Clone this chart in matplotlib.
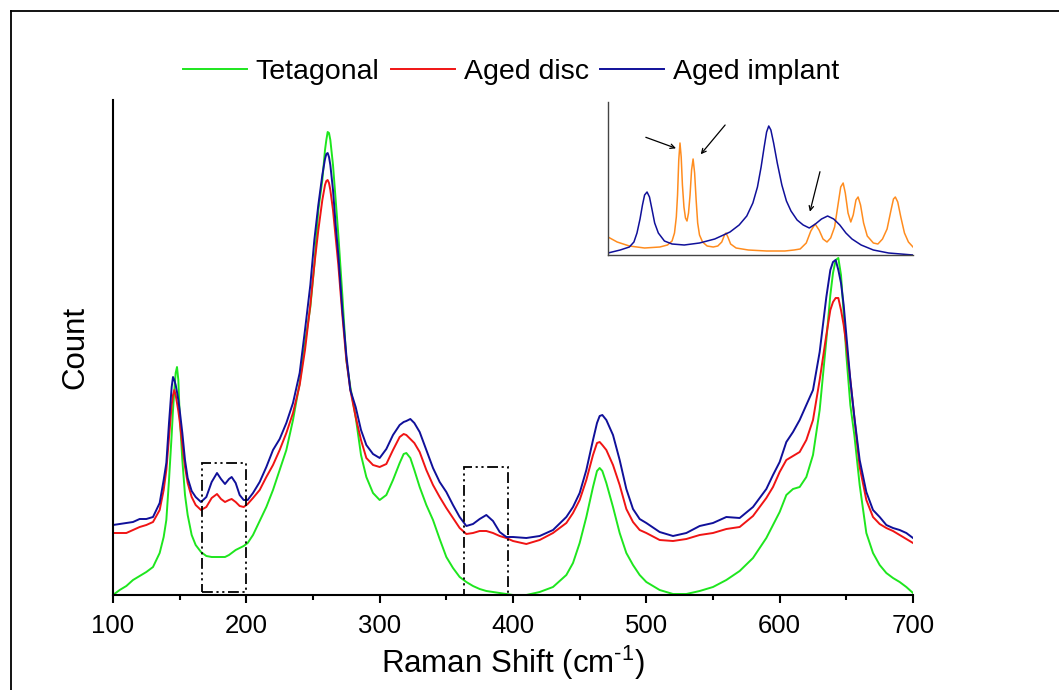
import matplotlib
matplotlib.use("Agg")
import matplotlib.pyplot as plt
from matplotlib.lines import Line2D
from matplotlib.patches import Rectangle
from matplotlib.ticker import MultipleLocator

plt.rcParams['font.family'] = ['Liberation Sans', 'DejaVu Sans']
plt.rcParams['mathtext.fontset'] = 'custom'
plt.rcParams['mathtext.rm'] = 'Liberation Sans'
plt.rcParams['mathtext.it'] = 'Liberation Sans'

# ---------------- data (main spectra) ----------------
raman_shift = [
    100, 105, 110, 115, 120, 125, 130, 135, 138, 140,
    142, 144, 145, 146, 147, 148, 149, 150, 152, 154,
    156, 159, 162, 166, 170, 174, 178, 181, 184, 187,
    189, 192, 195, 198, 201, 205, 210, 215, 220, 225,
    230, 235, 240, 244, 248, 251, 254, 257, 259, 260,
    261, 262, 263, 265, 267, 269, 272, 275, 278, 282,
    286, 290, 295, 300, 305, 310, 315, 318, 320, 323,
    326, 330, 335, 340, 345, 350, 355, 360, 365, 370,
    375, 380, 385, 390, 395, 400, 410, 420, 430, 440,
    445, 450, 455, 460, 463, 465, 467, 470, 475, 480,
    485, 490, 495, 500, 510, 520, 530, 540, 550, 560,
    570, 580, 590, 595, 600, 605, 610, 615, 620, 625,
    630, 635, 638, 640, 642, 644, 646, 648, 650, 653,
    656, 660, 665, 670, 675, 680, 685, 690, 695, 700,
]

tetragonal = [
    0, 5, 9, 15, 19, 23, 28, 42, 58, 75,
    115, 160, 185, 205, 222, 228, 215, 180, 135, 100,
    80, 60, 50, 43, 39, 38, 38, 38, 38, 40,
    42, 45, 47, 49, 52, 60, 74, 88, 105, 125,
    145, 175, 212, 252, 288, 330, 385, 415, 445, 455,
    463, 462, 455, 430, 395, 360, 300, 235, 208, 178,
    140, 118, 102, 95, 100, 115, 132, 141, 142, 137,
    125, 108, 90, 75, 56, 38, 27, 18, 13, 9,
    6, 4, 3, 2, 1, 0, 0, 3, 8, 20,
    32, 52, 78, 108, 124, 127, 124, 112, 88, 62,
    42, 30, 20, 13, 5, 1, 1, 4, 8, 15,
    24, 37, 57, 70, 83, 100, 106, 108, 118, 140,
    185, 255, 300, 322, 335, 337, 320, 282, 240, 190,
    160, 110, 62, 42, 30, 22, 17, 13, 8, 2,
]

aged_disc = [
    62, 62, 62, 65, 68, 70, 73, 85, 105, 125,
    158, 190, 200, 205, 200, 192, 184, 174, 150, 128,
    112, 98, 90, 85, 88, 97, 101, 96, 93, 95,
    96, 93, 89, 88, 91, 97, 105, 118, 130, 145,
    162, 182, 210, 245, 290, 330, 365, 395, 410, 414,
    415, 412, 405, 385, 358, 330, 280, 235, 205, 178,
    155, 137, 130, 128, 131, 145, 158, 161, 160, 156,
    152, 143, 125, 110, 98, 87, 77, 67, 61, 62,
    64, 64, 62, 59, 57, 54, 51, 55, 62, 72,
    82, 95, 115, 140, 152, 153, 150, 145, 130, 110,
    86, 73, 65, 62, 55, 54, 56, 60, 62, 66,
    68, 79, 97, 108, 123, 135, 139, 143, 155, 175,
    215, 260, 285, 293, 297, 297, 285, 270, 250, 215,
    178, 128, 95, 78, 71, 67, 64, 60, 56, 52,
]

aged_implant = [
    70, 71, 72, 73, 76, 76, 78, 92, 115, 132,
    172, 208, 218, 215, 210, 203, 195, 185, 162, 135,
    117, 104, 98, 93, 98, 113, 122, 116, 111, 116,
    118, 112, 100, 95, 95, 102, 113, 128, 145, 156,
    172, 192, 222, 265, 310, 355, 390, 420, 436, 441,
    442, 438, 430, 405, 370, 340, 285, 240, 205, 188,
    165, 150, 141, 137, 146, 160, 170, 173, 174, 176,
    172, 163, 145, 127, 113, 103, 90, 78, 69, 71,
    76, 80, 74, 63, 58, 58, 57, 59, 65, 78,
    88, 102, 125, 155, 172, 179, 180, 175, 160, 135,
    106, 86, 76, 72, 63, 59, 62, 69, 72, 78,
    77, 88, 106, 120, 133, 153, 163, 175, 190, 205,
    243, 298, 325, 333, 335, 325, 312, 290, 260, 215,
    178, 135, 103, 85, 78, 70, 67, 65, 62, 57,
]

series_labels = ["Tetagonal", "Aged disc", "Aged implant"]
series_colors = ["#1EE61E", "#F01414", "#10109A"]

# highlighted regions (x0, x1, y0, y1)
highlight_regions = [(167, 200, 3, 132), (363, 396, 0, 128)]

# ---------------- data (inset) ----------------
inset_blue_x = [0, 4, 7, 8.5, 9.5, 10.5, 11.3, 12.0, 12.8, 13.6, 14.4, 15.3, 16.5, 18.5, 21,
                25, 30, 35, 40, 43, 45.5, 47.5, 49, 50.2, 51.2, 52, 52.7, 53.4, 54.3,
                55.5, 57, 58.5, 60, 62, 64, 66, 68, 70, 72, 74, 76, 78, 80, 83,
                87, 92, 100]
inset_blue_y = [2, 5, 8, 13, 22, 36, 50, 60, 63, 58, 46, 32, 22, 14, 11,
                10, 12, 16, 23, 30, 39, 52, 68, 88, 108, 123, 129, 125, 112,
                92, 70, 54, 44, 35, 30, 27, 31, 36, 39, 36, 30, 22, 16, 10,
                5, 2, 0]

inset_orange_x = [0, 3, 7, 12, 17, 19.5, 21.0, 21.8, 22.4, 22.8, 23.2, 23.6, 24.0, 24.4,
                  24.9, 25.4, 25.9, 26.4, 26.9, 27.4, 27.9, 28.4, 28.9, 29.4, 30.0,
                  31, 32.5, 34.5, 36, 37.3, 38.2, 38.7, 39.3, 40.2, 42, 46, 52, 58,
                  61, 63, 65, 66.5, 67.9, 69.2, 70.5, 71.8, 73, 74.3, 75.3, 76.3,
                  77.1, 77.8, 78.7, 79.6, 80.4, 81.3, 82, 82.8, 83.8, 85, 87, 88.5,
                  90, 91.5, 92.8, 93.6, 94.2, 95, 96, 97.2, 98.5, 100]
inset_orange_y = [18, 13, 9, 7, 8, 10, 14, 22, 38, 60, 95, 112, 98, 70,
                  48, 37, 34, 42, 60, 85, 96, 82, 55, 32, 20,
                  13, 9, 8, 9, 13, 20, 22, 18, 11, 7, 5, 4, 4,
                  5, 6, 12, 24, 31, 25, 16, 13, 17, 28, 48, 68,
                  72, 62, 42, 33, 40, 55, 58, 50, 32, 19, 12, 11,
                  16, 26, 45, 56, 58, 53, 38, 22, 13, 8]

# arrows in inset: (tail_x, tail_y, head_x, head_y)
inset_arrows = [(12.4, 117.7, 22.3, 106.7), (38.4, 130.0, 30.4, 100.7), (69.5, 83.3, 66.2, 43.3)]

# ---------------- figure ----------------
W, H = 1059, 690
fig = plt.figure(figsize=(W / 100, H / 100), dpi=100)
fig.patch.set_facecolor("white")

ax = fig.add_axes([113 / W, 1 - 595 / H, 800 / W, 495 / H])
for ys, lab, col in zip([tetragonal, aged_disc, aged_implant], series_labels, series_colors):
    ax.plot(raman_shift, ys, color=col, lw=1.4, label=lab)

for (x0, x1, y0, y1) in highlight_regions:
    ax.add_patch(Rectangle((x0, y0), x1 - x0, y1 - y0, fill=False, ec="black",
                           lw=1.3, ls=(0, (6, 2, 1.2, 2, 1.2, 2)), zorder=5))

ax.set_xlim(100, 700)
ax.set_ylim(0, 495)
ax.spines["top"].set_visible(False)
ax.spines["right"].set_visible(False)
ax.spines["left"].set_linewidth(1.5)
ax.spines["bottom"].set_linewidth(1.5)
ax.set_yticks([])
ax.xaxis.set_major_locator(MultipleLocator(100))
ax.xaxis.set_minor_locator(MultipleLocator(50))
ax.tick_params(axis="x", which="major", direction="out", length=6, width=1.5,
               labelsize=18.5, pad=8)
ax.tick_params(axis="x", which="minor", direction="out", length=3.5, width=1.5)
ax.set_xlabel(r"Raman Shift (cm$^{\text{-1}}$)", fontsize=22.5, labelpad=4)
ax.set_ylabel("Count", fontsize=22.5, labelpad=16)

handles, labels = ax.get_legend_handles_labels()
fig.legend(handles, labels, loc="center", bbox_to_anchor=(511 / W, 1 - 72 / H),
           ncol=3, frameon=False, fontsize=20.5, handlelength=2.25, handletextpad=0.3,
           columnspacing=0.4)

# inset
axi = fig.add_axes([608 / W, 1 - 255 / H, 305 / W, 153 / H])
axi.plot(inset_orange_x, inset_orange_y, color="#FF8C1E", lw=1.1)
axi.plot(inset_blue_x, inset_blue_y, color="#10109A", lw=1.1)
for (tx, ty, hx, hy) in inset_arrows:
    axi.annotate("", xy=(hx, hy), xytext=(tx, ty),
                 arrowprops=dict(arrowstyle="->", color="black", lw=0.9,
                                 mutation_scale=8, shrinkA=0, shrinkB=0))
axi.set_xlim(0, 100)
axi.set_ylim(0, 153)
axi.set_xticks([])
axi.set_yticks([])
axi.spines["top"].set_visible(False)
axi.spines["right"].set_visible(False)
axi.spines["left"].set_color("#444444")
axi.spines["bottom"].set_color("#444444")
axi.spines["left"].set_linewidth(1.0)
axi.spines["bottom"].set_linewidth(1.0)
axi.patch.set_alpha(0)

# figure frame (top and left edges visible)
fx, fy = 10.5 / W, 1 - 10.5 / H
fig.add_artist(Line2D([fx, fx], [0, fy], transform=fig.transFigure, color="black", lw=1.3))
fig.add_artist(Line2D([fx, 1], [fy, fy], transform=fig.transFigure, color="black", lw=1.3))

fig.savefig("out.png", dpi=100)
